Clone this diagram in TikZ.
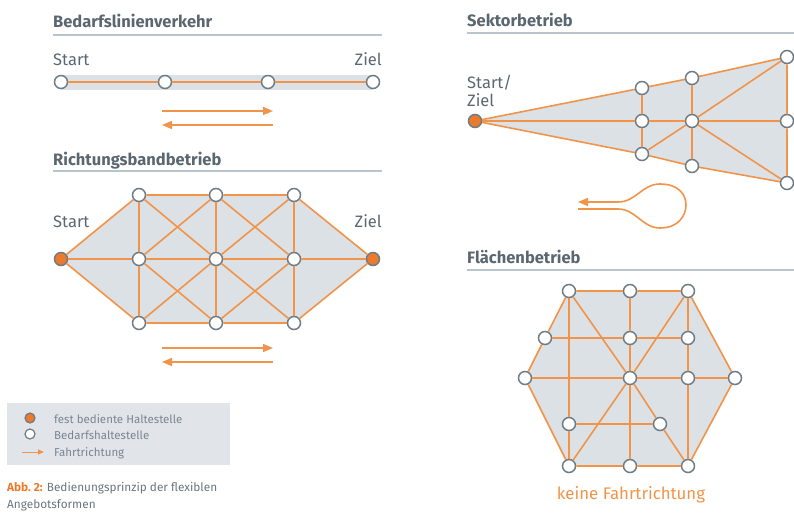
\documentclass[tikz,border=0pt]{standalone}
\usepackage{fontspec}
\setmainfont{Fira Sans}
\usepackage{xcolor}
\usetikzlibrary{arrows.meta}
\usetikzlibrary{backgrounds}
\definecolor{orangelinie}{HTML}{F1944A}
\definecolor{orangepunkt}{HTML}{EC7A2C}
\definecolor{grauflaeche}{HTML}{DCE1E5}
\definecolor{graurand}{HTML}{6E7C86}
\definecolor{grautext}{HTML}{5B6770}
\definecolor{graustrich}{HTML}{B9C5CD}
\tikzset{
  halt/.style={circle, draw=graurand, fill=white, line width=1.5pt, minimum size=13pt, inner sep=0pt},
  festhalt/.style={halt, fill=orangepunkt},
  kante/.style={draw=orangelinie, line width=1.6pt},
  flaeche/.style={fill=grauflaeche},
  titel/.style={anchor=base west, inner sep=0pt, text=grautext, font=\fontsize{16.5}{19}\selectfont\bfseries},
  beschriftung/.style={inner sep=0pt, text=grautext, font=\fontsize{16.5}{19}\selectfont},
  strich/.style={draw=graustrich, line width=1.2pt},
  pfeil/.style={orangelinie, line width=1.6pt, -{Triangle[length=10pt,width=8pt]}},
  legende/.style={anchor=base west, inner sep=0pt, text=grautext!80, font=\fontsize{11.5}{13}\selectfont},
}

\begin{document}
\begin{tikzpicture}[x=1pt, y=-1pt]
  \useasboundingbox (0,0) rectangle (794,519);

  % Bedarfslinienverkehr
  \node[titel] (bt) at (53,28) {Bedarfslinienverkehr};
  \draw[strich] (53,35) -- (382,35);
  \node[beschriftung, anchor=base west] (bstart) at (53,66) {Start};
  \node[beschriftung, anchor=base east] (bziel) at (382,66) {Ziel};
  \node[halt] (b1) at (61,82) {};
  \node[halt] (b2) at (165,82) {};
  \node[halt] (b3) at (268,82) {};
  \node[halt] (b4) at (373,82) {};
  \begin{scope}[on background layer]
    \draw[grauflaeche, line width=15pt] (b1.center) -- (b4.center);
  \end{scope}
  \draw[kante] (b1) -- (b2) -- (b3) -- (b4);
  \coordinate (bp1) at (162,111);
  \coordinate (bp2) at (273,111);
  \coordinate (bp3) at (273,125);
  \coordinate (bp4) at (162,125);
  \draw[pfeil] (bp1) -- (bp2);
  \draw[pfeil] (bp3) -- (bp4);

  % Richtungsbandbetrieb
  \node[titel] (rt) at (53,165) {Richtungsbandbetrieb};
  \draw[strich] (53,171) -- (382,171);
  \node[beschriftung, anchor=base west] (rstart) at (53,227) {Start};
  \node[beschriftung, anchor=base east] (rziel) at (382,227) {Ziel};
  \node[festhalt] (rs) at (61,259) {};
  \node[festhalt] (rz) at (373,259) {};
  \foreach \i/\x in {1/139,2/216,3/294} {
    \node[halt] (ro\i) at (\x,195) {};
    \node[halt] (rm\i) at (\x,259) {};
    \node[halt] (ru\i) at (\x,323) {};
  }
  \begin{scope}[on background layer]
    \fill[flaeche] (rs.center) -- (ro1.center) -- (ro3.center) -- (rz.center)
      -- (ru3.center) -- (ru1.center) -- cycle;
  \end{scope}
  \draw[kante] (rs) -- (ro1) -- (ro2) -- (ro3) -- (rz) -- (ru3) -- (ru2) -- (ru1) -- (rs);
  \draw[kante] (rs) -- (rm1) -- (rm2) -- (rm3) -- (rz);
  \foreach \i in {1,2,3} {
    \draw[kante] (ro\i) -- (rm\i) -- (ru\i);
  }
  \draw[kante] (ro1) -- (rm2) -- (ru3);
  \draw[kante] (ru1) -- (rm2) -- (ro3);
  \draw[kante] (rm1) -- (ro2) -- (rm3);
  \draw[kante] (rm1) -- (ru2) -- (rm3);
  \coordinate (rp1) at (162,348);
  \coordinate (rp2) at (273,348);
  \coordinate (rp3) at (273,362);
  \coordinate (rp4) at (162,362);
  \draw[pfeil] (rp1) -- (rp2);
  \draw[pfeil] (rp3) -- (rp4);

  % Legende
  \fill[grauflaeche!85] (7,403) rectangle (230,465);
  \node[festhalt, minimum size=10pt, line width=1.2pt] (lfest) at (30,418) {};
  \node[halt, minimum size=10pt, line width=1.2pt] (lbedarf) at (30,434) {};
  \coordinate (lp1) at (22,452);
  \coordinate (lp2) at (44,452);
  \draw[orangelinie, line width=1pt, -{Triangle[length=6pt,width=5pt]}] (lp1) -- (lp2);
  \node[legende] (lt1) at (54,423) {fest bediente Haltestelle};
  \node[legende] (lt2) at (54,439) {Bedarfshaltestelle};
  \node[legende] (lt3) at (54,456) {Fahrtrichtung};

  % Bildunterschrift
  \node[legende, text=grautext!90, font=\fontsize{11.8}{17}\selectfont, align=left, anchor=base west]
    (cap) at (7,508) {\textcolor{orangepunkt}{\bfseries Abb.~2:} Bedienungsprinzip der flexiblen\\Angebotsformen};

  % Sektorbetrieb
  \node[titel] (st) at (467,27) {Sektorbetrieb};
  \draw[strich] (467,33) -- (794,33);
  \node[beschriftung, anchor=base west] (sstart) at (467,88) {Start/};
  \node[beschriftung, anchor=base west] (sziel) at (467,106) {Ziel};
  \node[festhalt] (ss) at (475,121) {};
  \node[halt] (sa1) at (642,88) {};
  \node[halt] (sa2) at (642,121) {};
  \node[halt] (sa3) at (642,154) {};
  \node[halt] (sb1) at (692,78) {};
  \node[halt] (sb2) at (692,121) {};
  \node[halt] (sb3) at (692,166) {};
  \node[halt] (sc1) at (787,57) {};
  \node[halt] (sc2) at (787,121) {};
  \node[halt] (sc3) at (787,183) {};
  \begin{scope}[on background layer]
    \fill[flaeche] (ss.center) -- (sa1.center) -- (sb1.center) -- (sc1.center)
      -- (sc3.center) -- (sb3.center) -- (sa3.center) -- cycle;
  \end{scope}
  \draw[kante] (ss) -- (sa1) -- (sb1) -- (sc1) -- (sc2) -- (sc3) -- (sb3) -- (sa3) -- (ss);
  \draw[kante] (ss) -- (sa2) -- (sb2) -- (sc2);
  \draw[kante] (sa1) -- (sa2) -- (sa3);
  \draw[kante] (sb1) -- (sb2) -- (sb3);
  \draw[kante] (sa3) -- (sb2) -- (sc1);
  \draw[kante] (sb2) -- (sc3);
  \coordinate (sl1) at (578,209);
  \coordinate (sl2) at (578,202);
  \draw[pfeil] (sl1) -- (618,209) .. controls (636,209) and (642,228) .. (660,228)
    .. controls (678,228) and (686,216) .. (686,205)
    .. controls (686,194) and (678,184) .. (660,184)
    .. controls (642,184) and (636,202) .. (618,202) -- (sl2);

  % Flaechenbetrieb
  \node[titel] (ft) at (467,263) {Flächenbetrieb};
  \draw[strich] (467,270) -- (794,270);
  \node[halt] (f11) at (569,291) {};
  \node[halt] (f12) at (630,291) {};
  \node[halt] (f13) at (688,291) {};
  \node[halt] (f21) at (545,338) {};
  \node[halt] (f22) at (630,338) {};
  \node[halt] (f23) at (688,338) {};
  \node[halt] (f31) at (525,378) {};
  \node[halt] (f32) at (630,378) {};
  \node[halt] (f33) at (688,378) {};
  \node[halt] (f34) at (735,378) {};
  \node[halt] (f41) at (569,424) {};
  \node[halt] (f42) at (660,424) {};
  \node[halt] (f51) at (569,466) {};
  \node[halt] (f52) at (630,466) {};
  \node[halt] (f53) at (688,466) {};
  \begin{scope}[on background layer]
    \fill[flaeche] (f11.center) -- (f13.center) -- (f34.center) -- (f53.center)
      -- (f51.center) -- (f31.center) -- cycle;
  \end{scope}
  \draw[kante] (f11) -- (f12) -- (f13) -- (f34) -- (f53) -- (f52) -- (f51) -- (f31) -- (f21) -- (f11);
  \draw[kante] (f11) -- (f41) -- (f51);
  \draw[kante] (f12) -- (f22) -- (f32) -- (f52);
  \draw[kante] (f13) -- (f23) -- (f33) -- (f53);
  \draw[kante] (f21) -- (f22) -- (f23);
  \draw[kante] (f31) -- (f32) -- (f33) -- (f34);
  \draw[kante] (f41) -- (f42);
  \draw[kante] (f11) -- (f32) -- (f42) -- (f53);
  \draw[kante] (f13) -- (f32) -- (f51);
  \node[beschriftung, text=orangelinie, font=\fontsize{16.8}{19}\selectfont] (fkeine) at (631,495) {keine Fahrtrichtung};
\end{tikzpicture}
\end{document}
